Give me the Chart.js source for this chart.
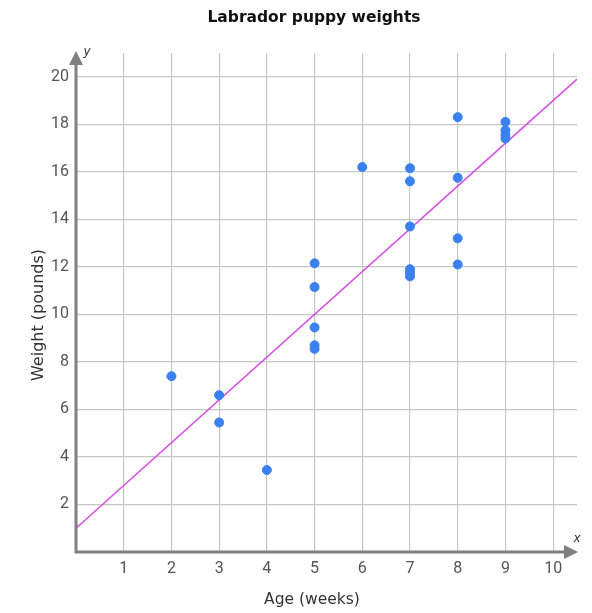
<!DOCTYPE html>
<html>
<head>
<meta charset="utf-8">
<script src="https://cdn.jsdelivr.net/npm/chart.js@4.4.1/dist/chart.umd.min.js"></script>
<style>
  body { margin: 0; background: #fff; }
  canvas { display: block; }
</style>
</head>
<body>
<canvas id="chart" width="592" height="613"></canvas>
<script>
const ages = [2, 3, 3, 4, 5, 5, 5, 5, 5, 6, 7, 7, 7, 7, 7, 7, 8, 8, 8, 8, 9, 9, 9, 9];
const weights = [7.4, 6.6, 5.45, 3.45, 12.15, 11.15, 9.45, 8.7, 8.55, 16.2, 16.15, 15.6, 13.7, 11.9, 11.75, 11.6, 18.3, 15.75, 13.2, 12.1, 18.1, 17.75, 17.55, 17.4];
const trendAges = [0, 10.5];
const trendWeights = [1.0, 19.9];
const xTicks = [0, 1, 2, 3, 4, 5, 6, 7, 8, 9, 10];
const yTicks = [0, 2, 4, 6, 8, 10, 12, 14, 16, 18, 20];
const chartTitle = 'Labrador puppy weights';
const xTitle = 'Age (weeks)';
const yTitle = 'Weight (pounds)';

Chart.defaults.font.family = 'Roboto';

const axesPlugin = {
    id: 'axesAndTitles',
    afterDraw(chart) {
        const ctx = chart.ctx;
        const { top, right, bottom } = chart.chartArea;
        const x0 = chart.scales.x.getPixelForValue(0);
        const y0 = chart.scales.y.getPixelForValue(0);

        ctx.save();
        ctx.strokeStyle = '#808080';
        ctx.fillStyle = '#808080';
        ctx.lineWidth = 3;
        ctx.lineCap = 'square';

        // axis lines
        ctx.beginPath();
        ctx.moveTo(x0, bottom);
        ctx.lineTo(x0, top + 10);
        ctx.moveTo(x0, y0);
        ctx.lineTo(right - 10, y0);
        ctx.stroke();

        // arrow heads
        ctx.beginPath();
        ctx.moveTo(x0, top - 2);
        ctx.lineTo(x0 - 7, top + 12);
        ctx.lineTo(x0 + 7, top + 12);
        ctx.closePath();
        ctx.fill();
        ctx.beginPath();
        ctx.moveTo(right + 1, y0);
        ctx.lineTo(right - 13, y0 - 7);
        ctx.lineTo(right - 13, y0 + 7);
        ctx.closePath();
        ctx.fill();

        // axis letters
        ctx.fillStyle = '#333';
        ctx.font = 'italic 12px "DejaVu Sans"';
        ctx.textAlign = 'center';
        ctx.textBaseline = 'middle';
        ctx.fillText('x', right, y0 - 13);
        ctx.fillText('y', x0 + 11, top - 1);

        // chart title
        ctx.fillStyle = '#111';
        ctx.font = 'bold 15.5px "DejaVu Sans"';
        ctx.fillText(chartTitle, 314, 18);

        // axis titles
        ctx.fillStyle = '#333';
        ctx.font = '15.5px "DejaVu Sans"';
        ctx.fillText(xTitle, 312, 600);
        ctx.translate(39, 315);
        ctx.rotate(-Math.PI / 2);
        ctx.font = '16px "DejaVu Sans"';
        ctx.fillText(yTitle, 0, 0);
        ctx.restore();
    }
};

new Chart(document.getElementById('chart'), {
    type: 'scatter',
    data: {
        datasets: [
            {
                label: 'Puppies',
                data: ages.map((a, i) => ({ x: a, y: weights[i] })),
                backgroundColor: '#3b80f0',
                borderColor: '#3b80f0',
                pointRadius: 4.5,
                pointHoverRadius: 4.5
            },
            {
                label: 'Trend',
                data: trendAges.map((a, i) => ({ x: a, y: trendWeights[i] })),
                showLine: true,
                borderColor: '#d452e2',
                borderWidth: 1.6,
                pointRadius: 0,
                fill: false
            }
        ]
    },
    options: {
        responsive: false,
        animation: false,
        layout: { padding: { top: 53, right: 15, bottom: 0, left: 0 } },
        plugins: {
            legend: { display: false },
            tooltip: { enabled: false },
            title: { display: false }
        },
        scales: {
            x: {
                type: 'linear',
                min: 0,
                max: 10.5,
                afterBuildTicks: (s) => { s.ticks = xTicks.map(v => ({ value: v })); },
                afterFit: (s) => { s.height = 61; },
                border: { display: false },
                grid: {
                    drawTicks: false,
                    color: (c) => c.tick && c.tick.value === 0 ? 'rgba(0,0,0,0)' : '#c6c6c6',
                    lineWidth: 1.2
                },
                ticks: {
                    padding: 7,
                    color: '#555',
                    font: { size: 16 },
                    maxRotation: 0,
                    callback: (v) => v === 0 ? '' : v
                }
            },
            y: {
                min: 0,
                max: 21,
                afterBuildTicks: (s) => { s.ticks = yTicks.map(v => ({ value: v })); },
                afterFit: (s) => { s.width = 76; },
                border: { display: false },
                grid: {
                    drawTicks: false,
                    color: (c) => c.tick && c.tick.value === 0 ? 'rgba(0,0,0,0)' : '#c6c6c6',
                    lineWidth: 1.2
                },
                ticks: {
                    padding: 7,
                    color: '#555',
                    font: { size: 16 },
                    callback: (v) => v === 0 ? '' : v
                }
            }
        }
    },
    plugins: [axesPlugin]
});
</script>
</body>
</html>
